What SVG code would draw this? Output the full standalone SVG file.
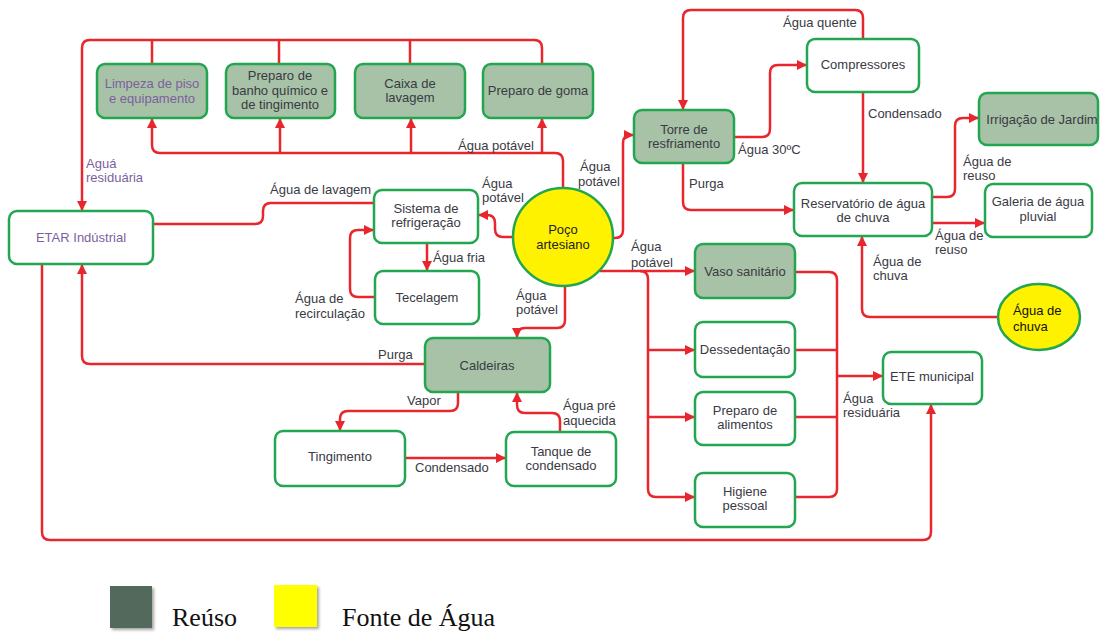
<svg xmlns="http://www.w3.org/2000/svg" width="1102" height="634" viewBox="0 0 1102 634">
<defs>
<marker id="ah" viewBox="0 0 10 10" refX="10" refY="5" markerWidth="10" markerHeight="10" markerUnits="userSpaceOnUse" orient="auto">
<path d="M0,0 L10,5 L0,10 z" fill="#e8262d"/>
</marker>
<filter id="sh" x="-20%" y="-20%" width="150%" height="150%">
<feDropShadow dx="2" dy="2" stdDeviation="1.5" flood-color="#000" flood-opacity="0.35"/>
</filter>
</defs>
<style>
.n{fill:#fff;stroke:#22a64f;stroke-width:2.5}
.r{fill:#a7c2a6;stroke:#22a64f;stroke-width:2.5}
.c{fill:none;stroke:#e8262d;stroke-width:2.5;stroke-linejoin:round}
.a{marker-end:url(#ah)}
text{font-family:"Liberation Sans",Arial,sans-serif;font-size:13px;fill:#3a3a44}
.m{text-anchor:middle}
.p{fill:#7d5fa0}
.lg{font-family:"Liberation Serif","Times New Roman",serif;font-size:26px;fill:#111}
</style>
<rect width="1102" height="634" fill="#fff"/>
<g id="connectors">
<path class="c a" d="M542,64 V48 Q542,40 534,40 H90 Q82,40 82,48 V211"/>
<path class="c" d="M152,64 V40 M279,64 V40 M410,64 V40"/>
<path class="c a" d="M563,188 V161 Q563,153 555,153 H160 Q152,153 152,145 V118"/>
<path class="c a" d="M280,153 V118"/>
<path class="c a" d="M411,153 V118"/>
<path class="c a" d="M542,153 V118"/>
<path class="c a" d="M611,238 H615 Q623,238 623,230 V143 Q623,135 631,135 H634"/>
<path class="c a" d="M734,137 H762 Q770,137 770,129 V73 Q770,65 778,65 H807"/>
<path class="c a" d="M863,39 V18 Q863,10 855,10 H691 Q683,10 683,18 V110"/>
<path class="c a" d="M863,92 V183"/>
<path class="c a" d="M683,163 V202 Q683,210 691,210 H794"/>
<path class="c a" d="M932,197 H947 Q955,197 955,189 V126 Q955,118 963,118 H979"/>
<path class="c a" d="M932,223 H985"/>
<path class="c a" d="M998,317 H870 Q862,317 862,309 V236"/>
<path class="c" d="M153,224 H255 Q263,224 263,216 V211 Q263,203 271,203 H374"/>
<path class="c a" d="M512,237 H503 Q495,237 495,229 V223 Q495,215 487,215 H478"/>
<path class="c a" d="M427,243 V271"/>
<path class="c a" d="M375,297 H358 Q350,297 350,289 V238 Q350,230 358,230 H374"/>
<path class="c a" d="M565,286 V320 Q565,328 557,328 H525 Q517,328 517,336 V338"/>
<path class="c a" d="M425,364 H90 Q82,364 82,356 V264"/>
<path class="c a" d="M458,392 V403 Q458,411 450,411 H348 Q340,411 340,419 V431"/>
<path class="c a" d="M405,458 H506"/>
<path class="c a" d="M560,432 V421 Q560,413 552,413 H525 Q517,413 517,405 V392"/>
<path class="c a" d="M600,271 H695"/>
<path class="c a" d="M640,271 Q648,271 648,279 V489 Q648,497 656,497 H695"/>
<path class="c a" d="M648,350 H695"/>
<path class="c a" d="M648,417 H695"/>
<path class="c" d="M795,272 H829 Q837,272 837,280 V489 Q837,497 829,497 H795 M795,350 H837 M795,417 H837"/>
<path class="c a" d="M837,376 H883"/>
<path class="c a" d="M42,264 V532 Q42,540 50,540 H923 Q931,540 931,532 V404"/>
</g>
<g id="labels">
<text class="p" x="86" y="168">Aguá</text>
<text class="p" x="86" y="182">residuária</text>
<text x="458" y="150">Água potável</text>
<text x="580" y="171">Água</text>
<text x="578" y="186">potável</text>
<text x="738" y="154">Água 30ºC</text>
<text x="783" y="27">Água quente</text>
<text x="868" y="118">Condensado</text>
<text x="689" y="188">Purga</text>
<text x="963" y="166">Água de</text>
<text x="963" y="180">reuso</text>
<text x="935" y="240">Água de</text>
<text x="935" y="254">reuso</text>
<text x="873" y="266">Água de</text>
<text x="873" y="280">chuva</text>
<text x="270" y="194">Água de lavagem</text>
<text x="482" y="188">Água</text>
<text x="482" y="202">potável</text>
<text x="433" y="262">Água fria</text>
<text x="295" y="303">Água de</text>
<text x="295" y="318">recirculação</text>
<text x="516" y="300">Água</text>
<text x="516" y="314">potável</text>
<text x="378" y="359">Purga</text>
<text x="407" y="405">Vapor</text>
<text x="415" y="472">Condensado</text>
<text x="563" y="410">Água pré</text>
<text x="563" y="425">aquecida</text>
<text x="631" y="251">Água</text>
<text x="631" y="267">potável</text>
<text x="843" y="403">Água</text>
<text x="843" y="417">residuária</text>
</g>
<g id="limpeza"><rect class="r" x="97" y="64" width="110" height="54" rx="8"/><text class="m p" x="152" y="88">Limpeza de piso</text><text class="m p" x="152" y="103">e equipamento</text></g>
<g id="banho"><rect class="r" x="226" y="64" width="109" height="54" rx="8"/><text class="m" x="280" y="80">Preparo de</text><text class="m" x="280" y="95">banho químico e</text><text class="m" x="280" y="109">de tingimento</text></g>
<g id="caixa"><rect class="r" x="355" y="64" width="110" height="54" rx="8"/><text class="m" x="410" y="88">Caixa de</text><text class="m" x="410" y="102">lavagem</text></g>
<g id="goma"><rect class="r" x="483" y="64" width="110" height="54" rx="8"/><text class="m" x="538" y="95">Preparo de goma</text></g>
<g id="torre"><rect class="r" x="634" y="110" width="100" height="53" rx="8"/><text class="m" x="684" y="134">Torre de</text><text class="m" x="684" y="148">resfriamento</text></g>
<g id="compressores"><rect class="n" x="807" y="39" width="112" height="53" rx="8"/><text class="m" x="863" y="69">Compressores</text></g>
<g id="irrigacao"><rect class="r" x="979" y="93" width="119" height="52" rx="8"/><text class="m" x="1042" y="124">Irrigação de Jardim</text></g>
<g id="reservatorio"><rect class="n" x="794" y="183" width="138" height="53" rx="8"/><text class="m" x="863" y="208">Reservatório de água</text><text class="m" x="863" y="222">de chuva</text></g>
<g id="galeria"><rect class="n" x="985" y="184" width="107" height="53" rx="8"/><text class="m" x="1038" y="206">Galeria de água</text><text class="m" x="1038" y="221">pluvial</text></g>
<g id="poco"><ellipse cx="563" cy="237" rx="50" ry="49" fill="#fff200" stroke="#22a64f" stroke-width="2.5"/><text class="m" x="563" y="234" style="fill:#222">Poço</text><text class="m" x="563" y="249" style="fill:#222">artesiano</text></g>
<g id="sistema"><rect class="n" x="374" y="190" width="104" height="53" rx="8"/><text class="m" x="426" y="213">Sistema de</text><text class="m" x="426" y="227">refrigeração</text></g>
<g id="tecelagem"><rect class="n" x="375" y="271" width="104" height="53" rx="8"/><text class="m" x="427" y="302">Tecelagem</text></g>
<g id="etar"><rect class="n" x="9" y="211" width="144" height="53" rx="8"/><text class="m p" x="81" y="242">ETAR Indústrial</text></g>
<g id="caldeiras"><rect class="r" x="425" y="338" width="125" height="54" rx="8"/><text class="m" x="487" y="370">Caldeiras</text></g>
<g id="tingimento"><rect class="n" x="275" y="431" width="130" height="55" rx="8"/><text class="m" x="340" y="461">Tingimento</text></g>
<g id="tanque"><rect class="n" x="506" y="432" width="110" height="54" rx="8"/><text class="m" x="561" y="456">Tanque de</text><text class="m" x="561" y="470">condensado</text></g>
<g id="vaso"><rect class="r" x="695" y="244" width="100" height="54" rx="8"/><text class="m" x="745" y="276">Vaso sanitário</text></g>
<g id="dessedentacao"><rect class="n" x="695" y="322" width="100" height="55" rx="8"/><text class="m" x="745" y="354">Dessedentação</text></g>
<g id="alimentos"><rect class="n" x="695" y="392" width="100" height="53" rx="8"/><text class="m" x="745" y="415">Preparo de</text><text class="m" x="745" y="429">alimentos</text></g>
<g id="higiene"><rect class="n" x="695" y="473" width="100" height="54" rx="8"/><text class="m" x="745" y="496">Higiene</text><text class="m" x="745" y="510">pessoal</text></g>
<g id="ete"><rect class="n" x="883" y="352" width="99" height="52" rx="8"/><text class="m" x="932" y="381">ETE municipal</text></g>
<g id="chuva"><ellipse cx="1039" cy="317" rx="41" ry="33" fill="#fff200" stroke="#22a64f" stroke-width="2.5"/><text x="1013" y="315" style="fill:#111">Água de</text><text x="1013" y="331" style="fill:#111">chuva</text></g>
<g id="legend">
<rect x="110" y="586" width="42" height="42" fill="#52695c" filter="url(#sh)"/>
<text class="lg" x="172" y="626">Reúso</text>
<rect x="274" y="585" width="43" height="42" fill="#ffff00" filter="url(#sh)"/>
<text class="lg" x="342" y="626">Fonte de Água</text>
</g>
</svg>
